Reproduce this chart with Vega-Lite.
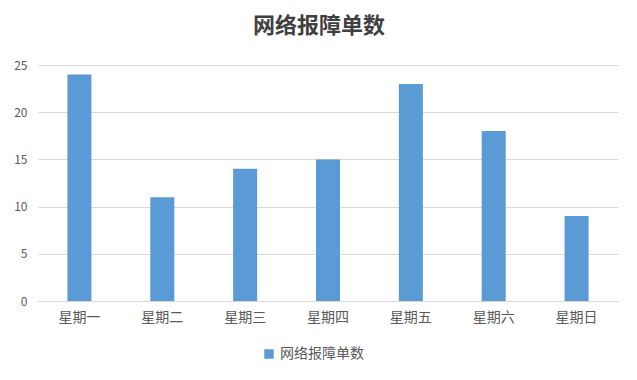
{
  "$schema": "https://vega.github.io/schema/vega-lite/v6.json",
  "width": 580,
  "height": 236,
  "autosize": "none",
  "padding": {"left": 38, "top": 65, "right": 19, "bottom": 79},
  "background": "white",
  "title": {
    "text": "网络报障单数",
    "font": "Noto Sans CJK SC",
    "fontSize": 22,
    "fontWeight": "bold",
    "color": "#404040",
    "anchor": "middle",
    "dx": -9,
    "offset": 21
  },
  "data": {
    "values": [
      {"day": "星期一", "count": 24, "series": "网络报障单数"},
      {"day": "星期二", "count": 11, "series": "网络报障单数"},
      {"day": "星期三", "count": 14, "series": "网络报障单数"},
      {"day": "星期四", "count": 15, "series": "网络报障单数"},
      {"day": "星期五", "count": 23, "series": "网络报障单数"},
      {"day": "星期六", "count": 18, "series": "网络报障单数"},
      {"day": "星期日", "count": 9, "series": "网络报障单数"}
    ]
  },
  "mark": {"type": "bar"},
  "encoding": {
    "x": {
      "field": "day",
      "type": "nominal",
      "sort": null,
      "scale": {"paddingInner": 0.71, "paddingOuter": 0.355},
      "axis": {
        "title": null,
        "labelAngle": 0,
        "labelFont": "Noto Sans CJK SC",
        "labelFontSize": 14,
        "labelColor": "#595959",
        "labelPadding": 9,
        "ticks": false,
        "domainColor": "#d9d9d9",
        "grid": false
      }
    },
    "y": {
      "field": "count",
      "type": "quantitative",
      "scale": {"domain": [0, 25]},
      "axis": {
        "title": null,
        "values": [0, 5, 10, 15, 20, 25],
        "labelFont": "Noto Sans CJK SC",
        "labelFontSize": 12,
        "labelColor": "#595959",
        "labelPadding": 11,
        "ticks": false,
        "domain": false,
        "gridColor": "#d9d9d9"
      }
    },
    "color": {
      "field": "series",
      "type": "nominal",
      "scale": {"range": ["#5b9bd5"]},
      "legend": {
        "title": null,
        "orient": "none",
        "legendX": 224,
        "legendY": 282,
        "symbolType": "square",
        "symbolSize": 90,
        "symbolStrokeWidth": 0,
        "labelFont": "Noto Sans CJK SC",
        "labelFontSize": 14,
        "labelColor": "#595959"
      }
    }
  },
  "config": {
    "view": {"stroke": null}
  }
}
